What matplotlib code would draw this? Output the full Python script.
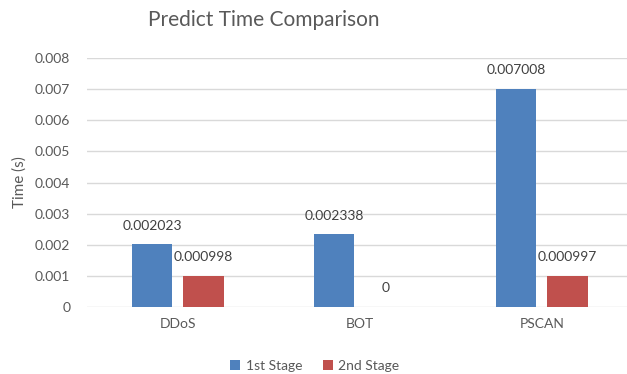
import matplotlib.pyplot as plt
import numpy as np

categories = ["DDoS", "BOT", "PSCAN"]
stage1 = [0.002023, 0.002338, 0.007008]
stage2 = [0.000998, 0.0, 0.000997]
stage1_labels = ["0.002023", "0.002338", "0.007008"]
stage2_labels = ["0.000998", "0", "0.000997"]

plt.rcParams['font.family'] = ['Lato', 'DejaVu Sans']
gray = '#595959'

fig = plt.figure(figsize=(6.27, 3.74), dpi=100)
ax = fig.add_axes([87 / 627, 67 / 374, 546 / 627, 249 / 374])

x = np.arange(len(categories))
w = 0.22
b1 = ax.bar(x - 0.143, stage1, w, color='#4F81BD', label='1st Stage', zorder=3)
b2 = ax.bar(x + 0.14, stage2, w, color='#C0504D', label='2nd Stage', zorder=3)

# value labels above each bar
for bars, labels in [(b1, stage1_labels), (b2, stage2_labels)]:
    for bar, lab in zip(bars, labels):
        ax.annotate(lab, (bar.get_x() + bar.get_width() / 2, bar.get_height()),
                    xytext=(0, 9), textcoords='offset points', ha='center', va='bottom',
                    fontsize=10, color='#404040')

ax.set_xlim(-0.5, 2.5)
ax.set_ylim(0, 0.008)
ax.set_yticks(np.arange(0, 0.0081, 0.001))
ax.set_yticklabels(["0"] + ["%.3f" % v for v in np.arange(0.001, 0.0081, 0.001)])
ax.set_xticks(x)
ax.set_xticklabels(categories)
ax.tick_params(length=0, colors=gray, labelsize=10)
ax.tick_params(axis='y', pad=12)
ax.tick_params(axis='x', pad=8)
ax.grid(axis='y', color='#D9D9D9', linewidth=1, zorder=0)
for s in ax.spines.values():
    s.set_visible(False)

fig.text(20 / 627, 1 - 182 / 374, "Time (s)", rotation=90, ha='center', va='center',
         fontsize=11, color=gray)
fig.text(264 / 627, 1 - 20 / 374, "Predict Time Comparison", ha='center', va='center',
         fontsize=15, color=gray)

fig.legend(handles=[b1, b2], loc='center', bbox_to_anchor=(315 / 627, 1 - 366 / 374),
           ncol=2, frameon=False, fontsize=10, labelcolor=gray, handlelength=0.7,
           handleheight=0.7, handletextpad=0.4, columnspacing=1.5)

fig.savefig("out.png", dpi=100)
